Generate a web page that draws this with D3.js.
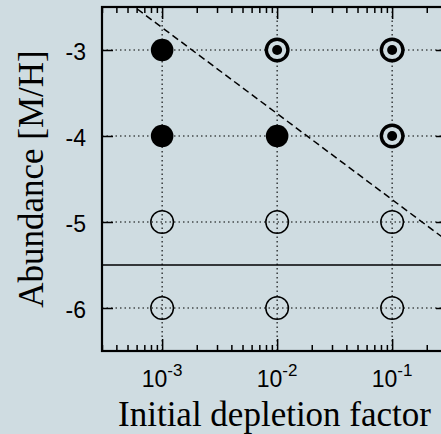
<!DOCTYPE html>
<html>
<head>
<meta charset="utf-8">
<script src="https://cdn.jsdelivr.net/npm/d3@7.9.0/dist/d3.min.js"></script>
<style>
  html, body { margin: 0; padding: 0; background: #cfdce1; }
  svg { display: block; }
  .tick text { font-family: "Liberation Sans", Arial, sans-serif; font-size: 23px; fill: #000; }
  .title { font-family: "Liberation Serif", "Times New Roman", serif; font-size: 35px; fill: #000; }
</style>
</head>
<body>
<svg id="chart" width="441" height="434"></svg>
<script>
// data
const depletionFactors = [1e-3, 1e-2, 1e-1];
const abundances = [-3, -4, -5, -6];
// marker kind per abundance row, one entry per depletion factor
const kindsAtM3 = ["filled", "ring", "ring"];
const kindsAtM4 = ["filled", "filled", "ring"];
const kindsAtM5 = ["open", "open", "open"];
const kindsAtM6 = ["open", "open", "open"];
const rowKinds = [kindsAtM3, kindsAtM4, kindsAtM5, kindsAtM6];

const thresholdAbundance = -5.5;
const dashedX = [3e-4, 3e-1];
const dashedY = [-2.217, -5.217];

const xTickLabels = ["-3", "-2", "-1"];

const svg = d3.select('#chart');
const margin = { left: 102, top: 7, right: 447, bottom: 351 };

const x = d3.scaleLog().domain([3e-4, 3e-1]).range([margin.left, margin.right]);
const y = d3.scaleLinear().domain([-6.5, -2.5]).range([margin.bottom, margin.top]);

svg.append('rect').attr('width', 441).attr('height', 434).attr('fill', '#cfdce1');

const defs = svg.append('defs');
defs.append('clipPath').attr('id', 'plotclip')
  .append('rect')
  .attr('x', margin.left).attr('y', margin.top)
  .attr('width', margin.right - margin.left).attr('height', margin.bottom - margin.top);

// grid
const grid = svg.append('g').attr('stroke', '#000').attr('stroke-width', 1.1).attr('stroke-dasharray', '1.5,3');
depletionFactors.forEach(d => {
  grid.append('line').attr('x1', x(d)).attr('x2', x(d)).attr('y1', margin.top).attr('y2', margin.bottom);
});
abundances.forEach(a => {
  grid.append('line').attr('x1', margin.left).attr('x2', margin.right).attr('y1', y(a)).attr('y2', y(a));
});

const plot = svg.append('g').attr('clip-path', 'url(#plotclip)');

// separator line
plot.append('line')
  .attr('x1', margin.left).attr('x2', margin.right)
  .attr('y1', y(thresholdAbundance)).attr('y2', y(thresholdAbundance))
  .attr('stroke', '#000').attr('stroke-width', 1.6);

// markers
abundances.forEach((a, i) => {
  depletionFactors.forEach((d, j) => {
    const kind = rowKinds[i][j];
    const cx = x(d), cy = y(a);
    if (kind === 'filled') {
      plot.append('circle').attr('cx', cx).attr('cy', cy).attr('r', 11.3).attr('fill', '#000');
    } else if (kind === 'ring') {
      plot.append('circle').attr('cx', cx).attr('cy', cy).attr('r', 10.8)
        .attr('fill', '#cfdce1').attr('stroke', '#000').attr('stroke-width', 3.4);
      plot.append('circle').attr('cx', cx).attr('cy', cy).attr('r', 5).attr('fill', '#000');
    } else {
      plot.append('circle').attr('cx', cx).attr('cy', cy).attr('r', 11.3)
        .attr('fill', 'none').attr('stroke', '#000').attr('stroke-width', 1.5);
    }
  });
});

// dashed line
const line = d3.line().x(d => x(d[0])).y(d => y(d[1]));
plot.append('path')
  .attr('d', line(d3.zip(dashedX, dashedY)))
  .attr('fill', 'none').attr('stroke', '#000').attr('stroke-width', 1.5)
  .attr('stroke-dasharray', '7,4');

// axes
const logTicks = [];
for (let e = -4; e <= -1; e++) {
  for (let m = 1; m <= 9; m++) {
    const v = m * Math.pow(10, e);
    if (v >= 3e-4 * 0.999 && v <= 3e-1 * 1.001) logTicks.push(v);
  }
}
const isMajor = v => depletionFactors.some(d => Math.abs(d - v) / d < 1e-6);

const xBottom = svg.append('g').attr('transform', `translate(0,${margin.bottom})`)
  .call(d3.axisBottom(x).tickValues(logTicks).tickSize(-6).tickFormat(''));
const xTop = svg.append('g').attr('transform', `translate(0,${margin.top})`)
  .call(d3.axisTop(x).tickValues(logTicks).tickSize(-6).tickFormat(''));
[xBottom, xTop].forEach(g => {
  g.select('.domain').remove();
  g.selectAll('.tick line').attr('stroke-width', 1.5);
});
xTop.selectAll('.tick line').attr('y2', d => isMajor(d) ? 12 : 6);
xBottom.selectAll('.tick line').attr('y2', d => isMajor(d) ? -12 : -6);

const yLeft = svg.append('g').attr('transform', `translate(${margin.left},0)`)
  .call(d3.axisLeft(y).tickValues(abundances).tickSize(-11).tickPadding(16).tickFormat(d => String(d)));
const yRight = svg.append('g').attr('transform', `translate(${margin.right},0)`)
  .call(d3.axisRight(y).tickValues(abundances).tickSize(-11).tickFormat(''));
[yLeft, yRight].forEach(g => {
  g.select('.domain').remove();
  g.selectAll('.tick line').attr('stroke-width', 1.5);
});
yLeft.selectAll('.tick text').attr('dy', '0.4em');

// bottom tick labels with superscripts
const xl = svg.append('g');
depletionFactors.forEach((d, i) => {
  const t = xl.append('text')
    .attr('x', x(d)).attr('y', 387)
    .attr('text-anchor', 'middle')
    .attr('font-family', '"Liberation Sans", Arial, sans-serif')
    .attr('font-size', 23);
  t.append('tspan').text('10');
  t.append('tspan').attr('font-size', 17).attr('dy', -11).text(xTickLabels[i]);
});

// frame
svg.append('rect')
  .attr('x', margin.left).attr('y', margin.top)
  .attr('width', margin.right - margin.left).attr('height', margin.bottom - margin.top)
  .attr('fill', 'none').attr('stroke', '#000').attr('stroke-width', 2.2);

// titles
svg.append('text').attr('class', 'title')
  .attr('x', (margin.left + margin.right) / 2).attr('y', 426)
  .attr('text-anchor', 'middle')
  .text('Initial depletion factor');

svg.append('text').attr('class', 'title')
  .attr('transform', `translate(43,${(margin.top + margin.bottom) / 2}) rotate(-90)`)
  .attr('text-anchor', 'middle')
  .text('Abundance [M/H]');
</script>
</body>
</html>
